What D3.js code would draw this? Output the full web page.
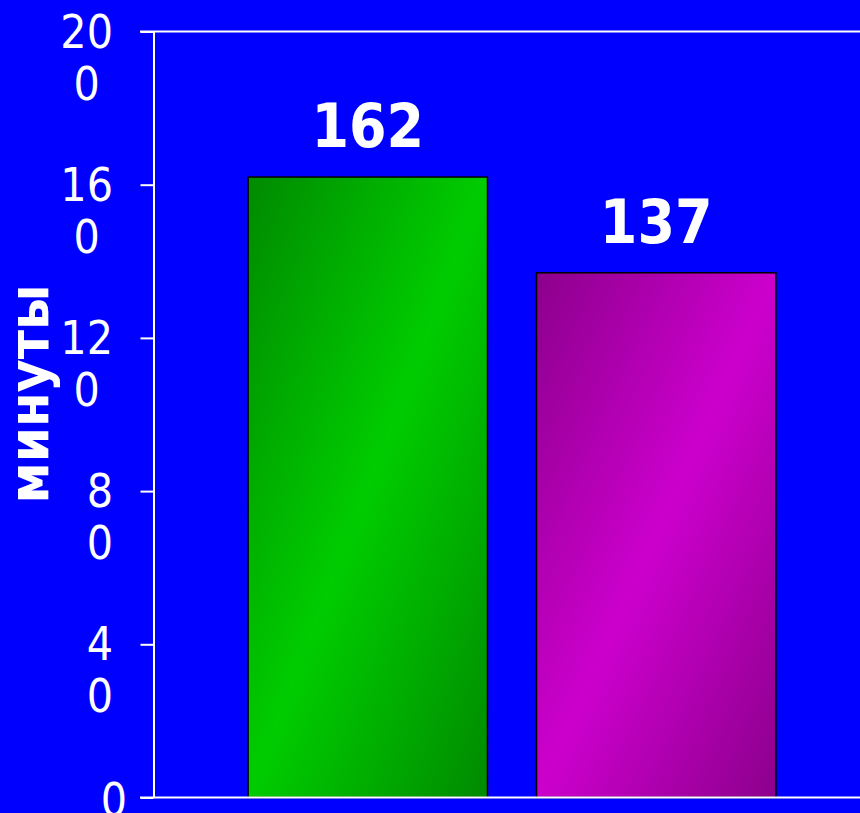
<!DOCTYPE html>
<html>
<head>
<meta charset="utf-8">
<script src="https://cdn.jsdelivr.net/npm/d3@7"></script>
<style>
  html, body { margin: 0; padding: 0; background: #0000ff; overflow: hidden; }
  svg { display: block; }
</style>
</head>
<body>
<svg id="chart" width="860" height="813"></svg>
<script>
// chart data
var categories = ["группа 1", "группа 2"];
var minutes = [162, 137];
var yTicks = [0, 40, 80, 120, 160, 200];
var yTitle = "минуты";

var width = 860, height = 813;
var svg = d3.select("#chart");

// gradients for the two bars
var defs = svg.append("defs");
var barColors = [
    { id: "gGreen", edge: "#008a00", mid: "#00cc00" },
    { id: "gPurple", edge: "#8c008c", mid: "#cc00cc" }
];
barColors.forEach((c) => {
    var g = defs.append("linearGradient").attr("id", c.id)
        .attr("x1", "0").attr("y1", "0").attr("x2", "1").attr("y2", "1");
    g.append("stop").attr("offset", "0%").attr("stop-color", c.edge);
    g.append("stop").attr("offset", "50%").attr("stop-color", c.mid);
    g.append("stop").attr("offset", "100%").attr("stop-color", c.edge);
});

// scales
var y = d3.scaleLinear().domain([0, 200]).range([797.5, 31.5]);
var x = d3.scaleBand().domain(categories).range([153.5, 870.5])
    .paddingInner(0.17).paddingOuter(0.328);

// bars
svg.selectAll("rect.bar").data(minutes).enter().append("rect")
    .attr("class", "bar")
    .attr("x", (d, i) => x(categories[i]))
    .attr("y", d => y(d))
    .attr("width", x.bandwidth())
    .attr("height", d => y(0) - y(d))
    .attr("fill", (d, i) => "url(#" + barColors[i].id + ")")
    .attr("stroke", "#000")
    .attr("stroke-width", 1.5);

// value labels
svg.selectAll("text.val").data(minutes).enter().append("text")
    .attr("class", "val")
    .attr("x", (d, i) => x(categories[i]) + x.bandwidth() / 2)
    .attr("y", d => y(d) - 30)
    .attr("text-anchor", "middle")
    .attr("fill", "#fff")
    .style("font-family", "'DejaVu Sans Condensed', 'DejaVu Sans', sans-serif")
    .style("font-weight", "bold")
    .style("font-size", "60px")
    .text(d => d);

// y axis
var axis = svg.append("g").attr("transform", "translate(153.5,0)")
    .call(d3.axisLeft(y).tickValues(yTicks).tickSize(13).tickSizeOuter(0).tickFormat(""));
axis.select(".domain").attr("stroke", "#fff").attr("stroke-width", 2);
axis.selectAll(".tick line").attr("stroke", "#fff").attr("stroke-width", 2);

// top and bottom frame lines
svg.selectAll("line.frame").data([0, 200]).enter().append("line")
    .attr("class", "frame")
    .attr("x1", 140).attr("x2", width)
    .attr("y1", d => y(d)).attr("y2", d => y(d))
    .attr("stroke", "#fff").attr("stroke-width", 2);

// tick labels, wrapped like the original (last digit on a second line)
var labelFont = "'DejaVu Sans Condensed', 'DejaVu Sans', sans-serif";
yTicks.forEach((t) => {
    var s = String(t);
    if (s.length === 1) {
        svg.append("text").attr("x", 127).attr("y", y(t) + 18)
            .attr("text-anchor", "end").attr("fill", "#fff")
            .style("font-family", labelFont).style("font-size", "46px")
            .text(s);
        return;
    }
    var first = svg.append("text").attr("x", 113).attr("y", y(t) + 16)
        .attr("text-anchor", "end").attr("fill", "#fff")
        .style("font-family", labelFont).style("font-size", "46px")
        .text(s.slice(0, -1));
    var bb = first.node().getBBox();
    svg.append("text").attr("x", bb.x + bb.width / 2).attr("y", y(t) + 68)
        .attr("text-anchor", "middle").attr("fill", "#fff")
        .style("font-family", labelFont).style("font-size", "46px")
        .text(s.slice(-1));
});

// y title
svg.append("text")
    .attr("transform", "translate(48,394) rotate(-90)")
    .attr("text-anchor", "middle")
    .attr("fill", "#fff")
    .style("font-family", "'DejaVu Sans Condensed', 'DejaVu Sans', sans-serif")
    .style("font-weight", "bold")
    .style("font-size", "56px")
    .text(yTitle);
</script>
</body>
</html>
